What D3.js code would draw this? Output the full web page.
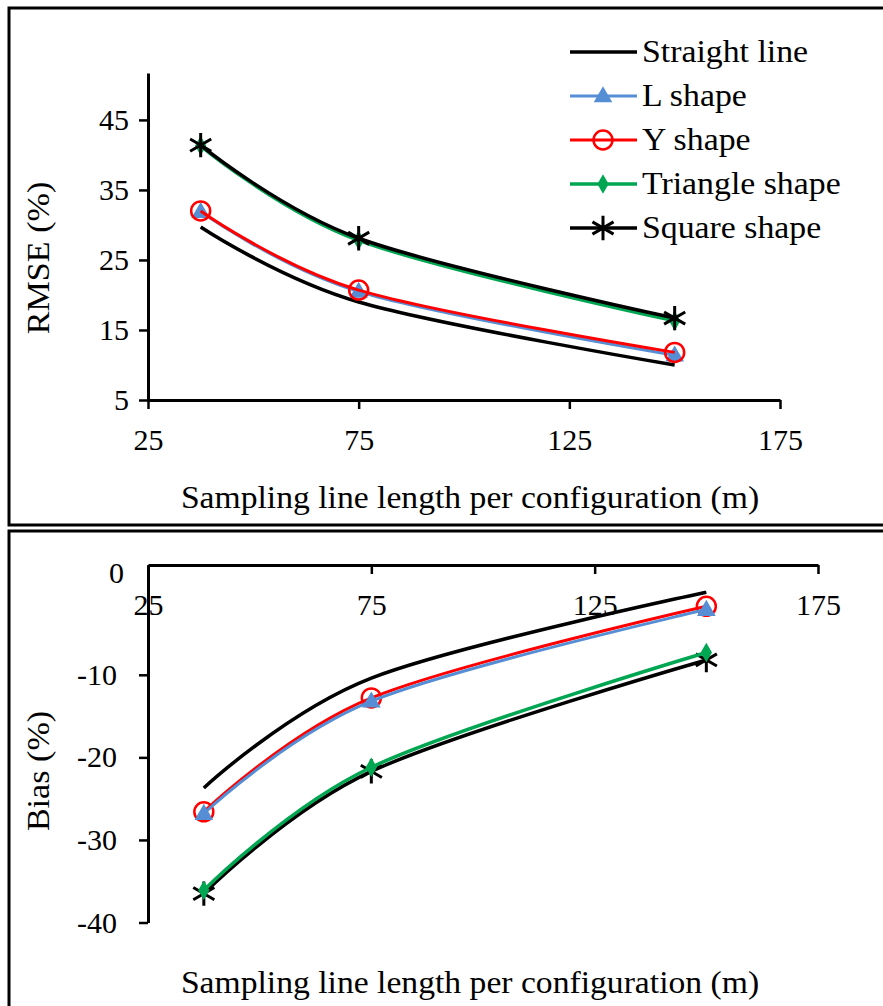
<!DOCTYPE html>
<html lang="en">
<head>
    <meta charset="UTF-8">
    <title>RMSE and Bias by sampling line length</title>
    <script src="https://d3js.org/d3.v7.min.js"></script>
    <style>
       body { margin: 0; background: #fff; }
       text { font-family: "Liberation Serif", serif; fill: #000; }
       .axis path, .axis line { stroke: #000; }
       .axis path { stroke-width: 3; }
       .axis line { stroke-width: 2.5; }
       .axis text { font-size: 30px; font-family: "Liberation Serif", serif; }
    </style>
</head>
<body>
    <script>
       // sampling line length per configuration (m)
       var lengths = [37.5, 75, 150];
       var seriesNames = ["Straight line", "L shape", "Y shape", "Triangle shape", "Square shape"];

       // RMSE (%)
       var rmseStraight = [29.7, 19.0, 10.0];
       var rmseL = [31.9, 20.5, 11.4];
       var rmseY = [32.0, 20.7, 11.8];
       var rmseTriangle = [41.3, 27.8, 16.3];
       var rmseSquare = [41.4, 28.1, 16.7];

       // Bias (%)
       var biasStraight = [-23.7, -10.4, 0.0];
       var biasL = [-26.8, -13.2, -2.1];
       var biasY = [-26.6, -12.8, -1.7];
       var biasTriangle = [-36.1, -21.2, -7.3];
       var biasSquare = [-36.5, -21.7, -8.2];

       var xTicks = [25, 75, 125, 175];
       var rmseTicks = [5, 15, 25, 35, 45];
       var biasTicks = [-40, -30, -20, -10];

       var style = {
           "Straight line":  {color: "#000000", width: 3.5, marker: null},
           "L shape":        {color: "#558ed5", width: 3, marker: "triangle"},
           "Y shape":        {color: "#ff0000", width: 3, marker: "circle"},
           "Triangle shape": {color: "#00a651", width: 3.5, marker: "diamond"},
           "Square shape":   {color: "#000000", width: 3.5, marker: "asterisk"}
       };

       var svg = d3.select("body").append("svg")
           .attr("width", 883)
           .attr("height", 1006);

       // widen Liberation Serif a little so it takes the room of the original Palatino-like face
       function stretch(sel, k) {
           sel.each(function() {
               var w = this.getComputedTextLength();
               d3.select(this).attr("textLength", w * k).attr("lengthAdjust", "spacingAndGlyphs");
           });
       }
       var plain = function(d) { return String(d); };

       // panel frames (right side runs off the picture)
       svg.append("rect").attr("x", 9).attr("y", 8).attr("width", 900).attr("height", 517)
           .attr("fill", "none").attr("stroke", "#000").attr("stroke-width", 3);
       svg.append("rect").attr("x", 9).attr("y", 531).attr("width", 900).attr("height", 500)
           .attr("fill", "none").attr("stroke", "#000").attr("stroke-width", 3);

       var line = function(x, y) {
           return d3.line()
               .x(function(d) { return x(d[0]); })
               .y(function(d) { return y(d[1]); })
               .curve(d3.curveCatmullRom.alpha(0));
       };

       function drawMarker(g, kind, color, cx, cy) {
           if (kind === "triangle") {
               g.append("path").attr("d", d3.symbol(d3.symbolTriangle, 150)())
                   .attr("transform", "translate(" + cx + "," + (cy + 1) + ")")
                   .attr("fill", color);
           } else if (kind === "circle") {
               g.append("circle").attr("cx", cx).attr("cy", cy).attr("r", 9.5)
                   .attr("fill", "none").attr("stroke", color).attr("stroke-width", 2.5);
           } else if (kind === "diamond") {
               g.append("path").attr("d", d3.symbol(d3.symbolDiamond, 110)())
                   .attr("transform", "translate(" + cx + "," + cy + ")")
                   .attr("fill", color);
           } else if (kind === "asterisk") {
               g.append("path").attr("d", d3.symbol(d3.symbolAsterisk, 420)())
                   .attr("transform", "translate(" + cx + "," + cy + ")")
                   .attr("fill", "none").attr("stroke", color).attr("stroke-width", 3);
           }
       }

       function drawSeries(g, x, y, name, values) {
           var s = style[name];
           var pts = lengths.map(function(l, i) { return [l, values[i]]; });
           g.append("path").datum(pts)
               .attr("fill", "none")
               .attr("stroke", s.color)
               .attr("stroke-width", s.width)
               .attr("d", line(x, y));
           if (s.marker) {
               pts.forEach(function(p) { drawMarker(g, s.marker, s.color, x(p[0]), y(p[1])); });
           }
       }

       // ---------- top: RMSE ----------
       var xTop = d3.scaleLinear().domain([25, 175]).range([148, 780]);
       var yTop = d3.scaleLinear().domain([5, 51.7]).range([400, 73]);

       svg.append("g").attr("class", "axis")
           .attr("transform", "translate(0,400)")
           .call(d3.axisBottom(xTop).tickValues(xTicks).tickFormat(plain)
               .tickSize(9).tickSizeOuter(0).tickPadding(20));
       svg.append("g").attr("class", "axis")
           .attr("transform", "translate(148,0)")
           .call(d3.axisLeft(yTop).tickValues(rmseTicks).tickFormat(plain)
               .tickSize(9).tickSizeOuter(0).tickPadding(10));

       var topPanel = svg.append("g");
       drawSeries(topPanel, xTop, yTop, "Straight line", rmseStraight);
       drawSeries(topPanel, xTop, yTop, "L shape", rmseL);
       drawSeries(topPanel, xTop, yTop, "Y shape", rmseY);
       drawSeries(topPanel, xTop, yTop, "Triangle shape", rmseTriangle);
       drawSeries(topPanel, xTop, yTop, "Square shape", rmseSquare);

       svg.append("text")
           .attr("x", 470).attr("y", 508)
           .attr("text-anchor", "middle")
           .style("font-size", "31px")
           .text("Sampling line length per configuration (m)")
           .call(stretch, 1.085);
       svg.append("text")
           .attr("transform", "translate(49,258) rotate(-90)")
           .attr("text-anchor", "middle")
           .style("font-size", "31px")
           .text("RMSE (%)")
           .call(stretch, 1.1);

       // legend
       var legend = svg.append("g");
       seriesNames.forEach(function(name, i) {
           var s = style[name];
           var cy = 52 + i * 44;
           legend.append("line")
               .attr("x1", 570).attr("x2", 637).attr("y1", cy).attr("y2", cy)
               .attr("stroke", s.color).attr("stroke-width", s.width);
           if (s.marker) drawMarker(legend, s.marker, s.color, 603, cy);
           legend.append("text")
               .attr("x", 642).attr("y", cy + 10)
               .style("font-size", "31px")
               .text(name)
               .call(stretch, 1.09);
       });

       // ---------- bottom: Bias ----------
       var xBot = d3.scaleLinear().domain([25, 175]).range([148, 818]);
       var yBot = d3.scaleLinear().domain([-40, 3.3]).range([922.5, 565]);

       svg.append("g").attr("class", "axis")
           .attr("transform", "translate(0,565)")
           .call(d3.axisBottom(xBot).tickValues(xTicks).tickFormat(plain)
               .tickSize(9).tickSizeOuter(0).tickPadding(20));
       svg.append("g").attr("class", "axis")
           .attr("transform", "translate(148,0)")
           .call(d3.axisLeft(yBot).tickValues(biasTicks).tickFormat(plain)
               .tickSize(9).tickSizeOuter(0).tickPadding(22));
       // zero label sits at the top of the axis
       svg.append("text")
           .attr("x", 124).attr("y", 583)
           .attr("text-anchor", "end")
           .style("font-size", "30px")
           .text("0");

       var botPanel = svg.append("g");
       drawSeries(botPanel, xBot, yBot, "Straight line", biasStraight);
       drawSeries(botPanel, xBot, yBot, "Y shape", biasY);
       drawSeries(botPanel, xBot, yBot, "L shape", biasL);
       drawSeries(botPanel, xBot, yBot, "Square shape", biasSquare);
       drawSeries(botPanel, xBot, yBot, "Triangle shape", biasTriangle);

       svg.append("text")
           .attr("x", 470).attr("y", 993)
           .attr("text-anchor", "middle")
           .style("font-size", "31px")
           .text("Sampling line length per configuration (m)")
           .call(stretch, 1.085);
       svg.append("text")
           .attr("transform", "translate(49,771) rotate(-90)")
           .attr("text-anchor", "middle")
           .style("font-size", "31px")
           .text("Bias (%)")
           .call(stretch, 1.1);
    </script>
</body>
</html>
